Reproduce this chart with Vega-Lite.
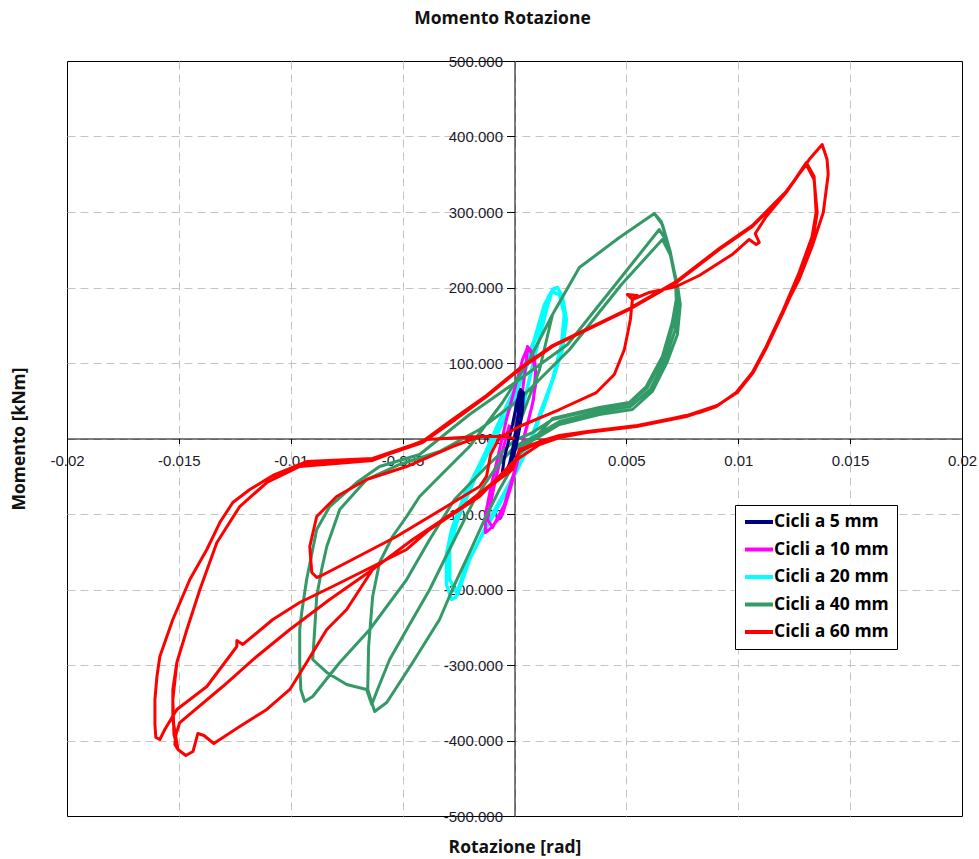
{
"$schema": "https://vega.github.io/schema/vega-lite/v6.json",
"autosize": {"type": "none"},
"width": 895, "height": 755,
"padding": {"left": 67, "top": 61, "right": 17, "bottom": 43},
"background": "white",
"title": {"text": "Momento Rotazione", "font": "Open Sans", "fontSize": 17.5, "fontWeight": "bold", "color": "#111", "anchor": "middle", "offset": 27, "dx": -12},
"datasets": {
"c5": [{"r":0,"m":0},{"r":0.00013,"m":25.2},{"r":0.00022,"m":51.7},{"r":0.00027,"m":64.9},{"r":0.0004,"m":60.9},{"r":0.00036,"m":38.4},{"r":0.00022,"m":11.9},{"r":0.00004,"m":-14.6},{"r":-0.00018,"m":-34.4},{"r":-0.0004,"m":-47.7},{"r":-0.00054,"m":-43.7},{"r":-0.00045,"m":-25.2},{"r":-0.00027,"m":-4},{"r":-0.00009,"m":18.5},{"r":0.00009,"m":45},{"r":0.00022,"m":62.3},{"r":0.00036,"m":57},{"r":0.00027,"m":25.2},{"r":0.00009,"m":-1.3},{"r":-0.00013,"m":-25.2},{"r":-0.00036,"m":-43.7},{"r":-0.00027,"m":-41.1},{"r":-0.00009,"m":-14.6},{"r":0.00004,"m":5.3}],
"c10": [{"r":0,"m":0},{"r":0.00031,"m":51.7},{"r":0.00054,"m":104.6},{"r":0.00058,"m":121.9},{"r":0.00076,"m":115.2},{"r":0.00094,"m":88.7},{"r":0.00085,"m":51.7},{"r":0.00058,"m":18.5},{"r":0.00022,"m":-21.2},{"r":-0.00013,"m":-60.9},{"r":-0.00054,"m":-100.7},{"r":-0.00112,"m":-120.5},{"r":-0.0013,"m":-124.5},{"r":-0.0013,"m":-100.7},{"r":-0.00103,"m":-60.9},{"r":-0.00067,"m":-14.6},{"r":-0.00036,"m":25.2},{"r":0,"m":64.9},{"r":0.00036,"m":104.6},{"r":0.00058,"m":120.5},{"r":0.00089,"m":107.3},{"r":0.00098,"m":78.1},{"r":0.0008,"m":45},{"r":0.00045,"m":5.3},{"r":0.00009,"m":-34.4},{"r":-0.00045,"m":-87.4},{"r":-0.00098,"m":-117.9},{"r":-0.0012,"m":-107.3},{"r":-0.00094,"m":-67.5},{"r":-0.00058,"m":-21.2},{"r":-0.00022,"m":18.5}],
"c20": [{"r":0,"m":0},{"r":0.00045,"m":51.7},{"r":0.00098,"m":117.9},{"r":0.00143,"m":170.9},{"r":0.0017,"m":197.4},{"r":0.00192,"m":200},{"r":0.00214,"m":188.1},{"r":0.00232,"m":157.6},{"r":0.00214,"m":117.9},{"r":0.00179,"m":84.8},{"r":0.00134,"m":45},{"r":0.00076,"m":-1.3},{"r":0.00013,"m":-41.1},{"r":-0.00067,"m":-87.4},{"r":-0.00156,"m":-133.8},{"r":-0.00223,"m":-173.5},{"r":-0.00263,"m":-210.6},{"r":-0.00281,"m":-213.2},{"r":-0.00304,"m":-193.4},{"r":-0.00304,"m":-153.6},{"r":-0.00281,"m":-120.5},{"r":-0.00223,"m":-74.2},{"r":-0.00134,"m":-21.2},{"r":-0.00054,"m":31.8},{"r":0.00022,"m":78.1},{"r":0.00089,"m":131.1},{"r":0.00134,"m":177.5},{"r":0.00165,"m":194.7},{"r":0.00201,"m":190.7},{"r":0.00223,"m":164.2},{"r":0.0021,"m":124.5},{"r":0.0017,"m":78.1},{"r":0.00112,"m":31.8},{"r":0.00058,"m":-14.6},{"r":-0.00013,"m":-54.3},{"r":-0.00112,"m":-107.3},{"r":-0.00201,"m":-160.3},{"r":-0.00254,"m":-206.6},{"r":-0.0029,"m":-186.8},{"r":-0.0029,"m":-147},{"r":-0.00254,"m":-107.3},{"r":-0.00179,"m":-54.3},{"r":-0.00089,"m":-1.3},{"r":-0.00013,"m":45},{"r":0.00058,"m":98},{"r":0.00112,"m":151},{"r":0.00156,"m":190.7}],
"c40": [{"r":0,"m":0},{"r":0.00045,"m":38.4},{"r":0.00112,"m":91.4},{"r":0.0017,"m":164.2},{"r":0.0029,"m":226.5},{"r":0.00469,"m":266.2},{"r":0.00625,"m":298},
{"r":0.00656,"m":287.4},{"r":0.00692,"m":250.3},{"r":0.00719,"m":210.6},{"r":0.00723,"m":184.1},{"r":0.00705,"m":153.6},{"r":0.00661,"m":108.6},{"r":0.00589,"m":68.9},{"r":0.00513,"m":47.7},{"r":0.00379,"m":41.1},{"r":0.0017,"m":26.5},{"r":0.00022,"m":-21.2},{"r":-0.00067,"m":-67.5},{"r":-0.00134,"m":-107.3},{"r":-0.00201,"m":-151},{"r":-0.00268,"m":-193.4},{"r":-0.00335,"m":-239.7},{"r":-0.00455,"m":-296.7},{"r":-0.00571,"m":-349.7},{"r":-0.00625,"m":-361.6},
{"r":-0.00656,"m":-332.4},{"r":-0.00652,"m":-275.5},{"r":-0.00634,"m":-209.3},{"r":-0.00603,"m":-164.2},{"r":-0.00545,"m":-129.8},{"r":-0.00482,"m":-103.3},{"r":-0.00424,"m":-76.8},{"r":-0.00313,"m":-43.7},{"r":-0.00201,"m":-10.6},{"r":-0.00054,"m":47.7},{"r":0.00067,"m":104.6},{"r":0.0017,"m":164.2},{"r":0.0029,"m":226.5},{"r":0.00469,"m":266.2},{"r":0.00625,"m":298},
{"r":0.00661,"m":283.4},{"r":0.00696,"m":247.7},{"r":0.00723,"m":207.9},{"r":0.00728,"m":181.5},{"r":0.0071,"m":151},{"r":0.00665,"m":107.3},{"r":0.00594,"m":67.5},{"r":0.00513,"m":46.4},{"r":0.00379,"m":39.7},{"r":0.0017,"m":25.2},{"r":0.0008,"m":7.9},{"r":0,"m":-2.6},{"r":-0.00125,"m":-37.1},{"r":-0.00268,"m":-80.8},{"r":-0.00379,"m":-133.8},{"r":-0.00482,"m":-186.8},{"r":-0.00647,"m":-253},{"r":-0.00781,"m":-296.7},{"r":-0.00902,"m":-341.7},{"r":-0.00938,"m":-348.3},
{"r":-0.00955,"m":-332.4},{"r":-0.0096,"m":-296.7},{"r":-0.0096,"m":-253},{"r":-0.00951,"m":-230.5},{"r":-0.00929,"m":-186.8},{"r":-0.00884,"m":-120.5},{"r":-0.00826,"m":-90.1},{"r":-0.00705,"m":-58.3},{"r":-0.00603,"m":-37.1},{"r":-0.00424,"m":-21.2},{"r":-0.00201,"m":31.8},{"r":0.00022,"m":78.1},{"r":0.00237,"m":124.5},{"r":0.00469,"m":210.6},{"r":0.00647,"m":276.8},
{"r":0.00683,"m":259.6},{"r":0.00714,"m":221.2},{"r":0.00732,"m":184.1},{"r":0.00719,"m":144.4},{"r":0.00674,"m":104.6},{"r":0.00607,"m":64.9},{"r":0.00518,"m":42.4},{"r":0.00379,"m":35.8},{"r":0.00201,"m":22.5},{"r":0.00089,"m":2.6},{"r":0,"m":-10.6},{"r":-0.00089,"m":-41.1},{"r":-0.00179,"m":-80.8},{"r":-0.00246,"m":-120.5},{"r":-0.00313,"m":-160.3},{"r":-0.00379,"m":-200},{"r":-0.00469,"m":-246.4},{"r":-0.00558,"m":-292.7},{"r":-0.00612,"m":-332.4},{"r":-0.00638,"m":-352.3},{"r":-0.00661,"m":-332.4},{"r":-0.0075,"m":-325.8},{"r":-0.00839,"m":-309.9},{"r":-0.00902,"m":-292.7},{"r":-0.00893,"m":-253},{"r":-0.00884,"m":-209.3},{"r":-0.00862,"m":-173.5},{"r":-0.00839,"m":-143},{"r":-0.00781,"m":-94},{"r":-0.00661,"m":-54.3},{"r":-0.00513,"m":-34.4},{"r":-0.00335,"m":-17.2},{"r":-0.00156,"m":11.9},{"r":0.00022,"m":51.7},{"r":0.00246,"m":117.9},{"r":0.00478,"m":204},{"r":0.00661,"m":263.6},
{"r":0.00696,"m":243.7},{"r":0.00728,"m":204},{"r":0.00741,"m":177.5},{"r":0.00728,"m":137.7},{"r":0.00683,"m":102},{"r":0.00616,"m":62.3},{"r":0.00527,"m":38.4},{"r":0.00379,"m":31.8},{"r":0.00201,"m":18.5},{"r":0.00089,"m":-1.3},{"r":0,"m":-14.6},{"r":-0.00067,"m":-27.8}],
"c60": [{"r":0,"m":0},{"r":-0.00045,"m":2.6},{"r":-0.00156,"m":2.6},{"r":-0.00277,"m":-10.6},{"r":-0.00482,"m":-37.1},{"r":-0.00661,"m":-54.3},{"r":-0.00795,"m":-76.8},{"r":-0.00884,"m":-103.3},{"r":-0.00915,"m":-143},{"r":-0.00906,"m":-177.5},{"r":-0.00884,"m":-184.1},{"r":-0.00862,"m":-181.5},{"r":-0.0075,"m":-164.2},{"r":-0.00527,"m":-129.8},{"r":-0.00304,"m":-90.1},{"r":-0.00156,"m":-63.6},{"r":-0.00125,"m":-50.3},{"r":-0.00107,"m":-21.2},{"r":-0.00067,"m":1.3},{"r":0.00022,"m":15.9},{"r":0.00201,"m":38.4},{"r":0.00366,"m":60.9},{"r":0.00446,"m":84.8},{"r":0.00491,"m":117.9},{"r":0.00518,"m":157.6},{"r":0.00527,"m":184.1},{"r":0.00504,"m":190.7},{"r":0.00549,"m":189.4},{"r":0.00527,"m":184.1},{"r":0.00603,"m":193.4},{"r":0.00723,"m":201.3},{"r":0.00826,"m":215.9},{"r":0.00973,"m":243.7},{"r":0.01049,"m":263.6},{"r":0.0108,"m":257},{"r":0.01094,"m":259.6},{"r":0.01076,"m":271.5},{"r":0.01125,"m":294},{"r":0.01214,"m":325.8},{"r":0.01304,"m":365.6},
{"r":0.01339,"m":347},{"r":0.01348,"m":299.3},{"r":0.0133,"m":267.5},{"r":0.01272,"m":219.9},{"r":0.01196,"m":166.9},{"r":0.01125,"m":121.9},{"r":0.01063,"m":87.4},{"r":0.00991,"m":60.9},{"r":0.00902,"m":42.4},{"r":0.00768,"m":29.1},{"r":0.00545,"m":15.9},{"r":0.00321,"m":7.9},{"r":0.00201,"m":2.6},{"r":0.00112,"m":-5.3},{"r":0.00022,"m":-17.2},{"r":-0.00009,"m":-38.4},{"r":-0.00232,"m":-90.1},{"r":-0.00455,"m":-133.8},{"r":-0.00634,"m":-173.5},{"r":-0.00826,"m":-213.2},{"r":-0.01004,"m":-253},{"r":-0.01152,"m":-288.7},{"r":-0.01304,"m":-328.5},{"r":-0.01496,"m":-376.2},{"r":-0.01513,"m":-392.1},{"r":-0.01518,"m":-405.3},{"r":-0.01504,"m":-411.9},{"r":-0.01527,"m":-372.2},{"r":-0.01527,"m":-332.4},{"r":-0.01509,"m":-296.7},{"r":-0.01464,"m":-253},{"r":-0.01406,"m":-200},{"r":-0.0133,"m":-137.7},{"r":-0.01228,"m":-90.1},{"r":-0.01107,"m":-58.3},{"r":-0.01004,"m":-41.1},{"r":-0.00929,"m":-34.4},{"r":-0.00634,"m":-27.8},{"r":-0.00411,"m":-5.3},{"r":-0.00277,"m":22.5},{"r":-0.00125,"m":55.6},{"r":0.00022,"m":91.4},{"r":0.0017,"m":121.9},{"r":0.00513,"m":170.9},{"r":0.00723,"m":206.6},{"r":0.00915,"m":250.3},{"r":0.01063,"m":280.8},{"r":0.01214,"m":325.8},{"r":0.01317,"m":369.5},{"r":0.01375,"m":389.4},
{"r":0.01397,"m":369.5},{"r":0.01402,"m":349.7},{"r":0.0138,"m":299.3},{"r":0.0133,"m":254.3},{"r":0.01272,"m":210.6},{"r":0.01196,"m":166.9},{"r":0.01125,"m":121.9},{"r":0.01063,"m":87.4},{"r":0.00991,"m":60.9},{"r":0.00902,"m":42.4},{"r":0.00826,"m":34.4},{"r":0.00545,"m":15.9},{"r":0.00321,"m":7.9},{"r":0.00201,"m":1.3},{"r":0.00112,"m":-7.9},{"r":-0.00009,"m":-31.8},{"r":-0.00156,"m":-76.8},{"r":-0.00379,"m":-120.5},{"r":-0.00482,"m":-147},{"r":-0.00634,"m":-169.5},{"r":-0.00813,"m":-196},{"r":-0.0096,"m":-217.2},{"r":-0.0108,"m":-239.7},{"r":-0.01214,"m":-272.8},{"r":-0.01241,"m":-267.5},{"r":-0.01241,"m":-275.5},{"r":-0.01375,"m":-328.5},{"r":-0.01509,"m":-358.9},{"r":-0.01563,"m":-385.4},{"r":-0.01585,"m":-398.7},{"r":-0.01603,"m":-396},{"r":-0.01607,"m":-378.8},{"r":-0.01607,"m":-345.7},{"r":-0.01598,"m":-315.2},{"r":-0.01585,"m":-288.7},{"r":-0.01527,"m":-239.7},{"r":-0.01451,"m":-186.8},{"r":-0.01375,"m":-147},{"r":-0.01317,"m":-111.3},{"r":-0.01259,"m":-84.8},{"r":-0.01183,"m":-67.5},{"r":-0.0108,"m":-49},{"r":-0.00929,"m":-30.5},{"r":-0.00634,"m":-26.5},{"r":-0.00411,"m":-4},{"r":-0.00277,"m":25.2},{"r":-0.00125,"m":57},{"r":0.00022,"m":92.7},{"r":0.0017,"m":123.2},{"r":0.00513,"m":172.2},{"r":0.00723,"m":207.9},{"r":0.00915,"m":251.7},{"r":0.01063,"m":282.1},{"r":0.01214,"m":327.2},{"r":0.01304,"m":362.9},
{"r":0.01339,"m":343},{"r":0.01353,"m":299.3},{"r":0.01335,"m":266.2},{"r":0.01277,"m":217.2},{"r":0.01201,"m":166.9},{"r":0.01129,"m":121.9},{"r":0.01067,"m":87.4},{"r":0.00996,"m":60.9},{"r":0.00906,"m":43.7},{"r":0.00772,"m":30.5},{"r":0.00549,"m":17.2},{"r":0.00326,"m":9.3},{"r":0.00201,"m":4},{"r":0.00112,"m":-4},{"r":0.00022,"m":-14.6},{"r":-0.00009,"m":-41.1},{"r":-0.00232,"m":-90.1},{"r":-0.00455,"m":-133.8},{"r":-0.00634,"m":-173.5},{"r":-0.0075,"m":-226.5},{"r":-0.00839,"m":-253},{"r":-0.00929,"m":-296.7},{"r":-0.01004,"m":-332.4},{"r":-0.01107,"m":-358.9},{"r":-0.01228,"m":-381.5},{"r":-0.01344,"m":-404},{"r":-0.01388,"m":-393.4},{"r":-0.01415,"m":-390.7},{"r":-0.01437,"m":-414.6},{"r":-0.01469,"m":-419.9},{"r":-0.01504,"m":-411.9},{"r":-0.01522,"m":-392.1},{"r":-0.01527,"m":-345.7},{"r":-0.01509,"m":-296.7},{"r":-0.01464,"m":-253},{"r":-0.01406,"m":-200},{"r":-0.0133,"m":-137.7},{"r":-0.01228,"m":-90.1},{"r":-0.01107,"m":-58.3},{"r":-0.0096,"m":-37.1},{"r":-0.00634,"m":-29.1},{"r":-0.00393,"m":-1.3},{"r":-0.00156,"m":2.6},{"r":-0.00045,"m":2.6}]
},
"encoding": {
"x": {"field": "r", "type": "quantitative",
 "scale": {"domain": [-0.02, 0.02], "nice": false, "zero": false},
 "axis": {"values": [-0.02,-0.015,-0.01,-0.005,0,0.005,0.01,0.015,0.02], "labelExpr": "datum.value + ''", "offset": -377.5, "title": "Rotazione [rad]", "titleY": 409, "titleBaseline": "middle", "tickSize": 5, "labelPadding": 10,
  "gridOpacity": {"condition": {"test": "abs(datum.value) > 0.0199", "value": 0}, "value": 1}}},
"y": {"field": "m", "type": "quantitative",
 "scale": {"domain": [-500, 500], "nice": false, "zero": false},
 "axis": {"values": [-500,-400,-300,-200,-100,0,100,200,300,400,500], "labelExpr": "(datum.value < 0 ? '-' : '') + format(abs(datum.value), '.3f')", "offset": -447.5, "title": "Momento [kNm]", "titleX": -495, "titleBaseline": "middle", "tickSize": 8, "labelPadding": 4,
  "gridOpacity": {"condition": {"test": "abs(datum.value) > 499", "value": 0}, "value": 1}}},
"order": {"value": null}
},
"layer": [
{"data": {"name": "c20"}, "mark": {"type": "line", "strokeWidth": 3.5, "strokeJoin": "round"},
 "encoding": {"color": {"datum": "Cicli a 20 mm", "type": "nominal",
  "scale": {"domain": ["Cicli a 5 mm","Cicli a 10 mm","Cicli a 20 mm","Cicli a 40 mm","Cicli a 60 mm"], "range": ["#000080","#FF00FF","#00FFFF","#339966","#FF0000"]},
  "legend": {"title": null, "orient": "none", "legendX": 668, "legendY": 444, "symbolType": "M-2,0H2", "symbolSize": 196, "symbolStrokeWidth": 4, "symbolOffset": 7, "labelOffset": 6, "rowPadding": 9.5, "padding": 8}}}},
{"data": {"name": "c10"}, "mark": {"type": "line", "strokeWidth": 3, "strokeJoin": "round"}, "encoding": {"color": {"datum": "Cicli a 10 mm", "type": "nominal"}}},
{"data": {"name": "c40"}, "mark": {"type": "line", "strokeWidth": 3, "strokeJoin": "round"}, "encoding": {"color": {"datum": "Cicli a 40 mm", "type": "nominal"}}},
{"data": {"name": "c5"}, "mark": {"type": "line", "strokeWidth": 3, "strokeJoin": "round"}, "encoding": {"color": {"datum": "Cicli a 5 mm", "type": "nominal"}}},
{"data": {"name": "c60"}, "mark": {"type": "line", "strokeWidth": 3, "strokeJoin": "round"}, "encoding": {"color": {"datum": "Cicli a 60 mm", "type": "nominal"}}}
],
"config": {
"view": {"stroke": "#000", "strokeWidth": 1},
"axis": {"grid": true, "gridColor": "#c4c4c4", "gridDash": [8, 5], "gridWidth": 1, "domainColor": "#000", "domainWidth": 1, "tickColor": "#000", "labelFont": "Liberation Sans", "labelFontSize": 15, "labelColor": "#1a1a2a", "labelOverlap": false, "labelBound": false, "labelFlush": false, "titleFont": "Open Sans", "titleFontSize": 17.5, "titleFontWeight": "bold", "titleColor": "#111"},
"legend": {"strokeColor": "#000", "fillColor": "#fff", "labelFont": "Open Sans", "labelFontSize": 17.5, "labelFontWeight": "bold", "labelColor": "#000"}
}
}
